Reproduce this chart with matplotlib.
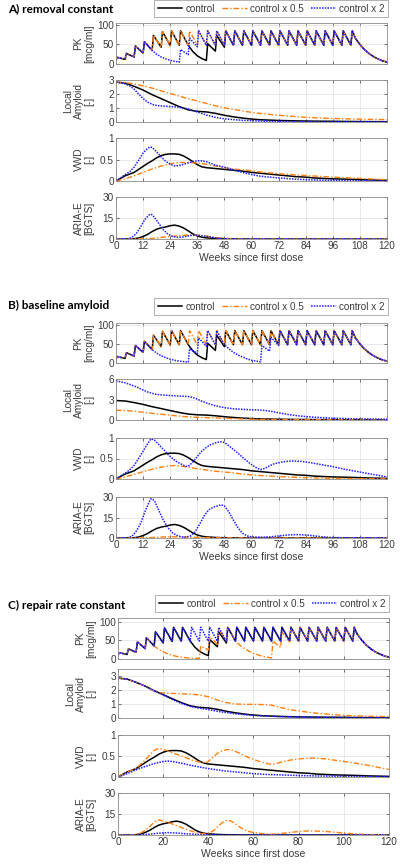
import matplotlib
matplotlib.use("Agg")
from matplotlib import pyplot as plt
from matplotlib.lines import Line2D

# ---------------- PK (sawtooth) ----------------
# uninterrupted dosing every 4 weeks: (week, mcg/ml)
pk_base = [(0, 11), (0.6, 17), (4, 12), (4.6, 27), (8, 18), (8.6, 46), (12, 28), (12.6, 57),
           (16, 35), (16.6, 73), (20, 43), (20.6, 83), (24, 47), (24.6, 85), (28, 48), (28.6, 85),
           (32, 48), (32.6, 85), (36, 48), (36.6, 85), (40, 48), (40.6, 85), (44, 48), (44.6, 85),
           (48, 48), (48.6, 85), (52, 48), (52.6, 85), (56, 48), (56.6, 85), (60, 48), (60.6, 85),
           (64, 48), (64.6, 85), (68, 48), (68.6, 85), (72, 48), (72.6, 85), (76, 48), (76.6, 85),
           (80, 48), (80.6, 85), (84, 48), (84.6, 85), (88, 48), (88.6, 85), (92, 48), (92.6, 85),
           (96, 48), (96.6, 85), (100, 48), (100.6, 85), (104, 48), (104.6, 85),
           (106, 66), (108, 50), (110, 37), (112, 27), (114, 19), (116, 13), (118, 8), (120, 5)]

# interrupted stretches: (from, to, replacement points)
pk_ctrl_gap = (31, 48.7, [(32, 48), (34, 32), (36, 21), (38, 14), (40, 9), (40.6, 52), (44, 33),
                          (44.6, 73), (48, 43), (48.6, 85)])
pk_a_dbl_gap = (15, 36.7, [(16, 35), (18, 25), (20, 18), (22, 13), (24, 9.6), (26, 7), (28, 5),
                           (28.6, 37), (32, 24), (32.6, 66), (36, 44), (36.6, 85)])
pk_b_dbl_gap1 = (15, 40.7, [(16, 35), (18, 26), (20, 19), (22, 14), (24, 10), (26, 7), (28, 5),
                            (30, 3.5), (32, 2.5), (32.6, 38), (36, 25), (36.6, 66), (40, 44), (40.6, 85)])
pk_b_dbl_gap2 = (47, 72.7, [(48, 48), (50, 37), (52, 28), (54, 21), (56, 16), (58, 11), (60, 7),
                            (62, 5), (64, 3), (64.6, 46), (68, 31), (68.6, 68), (72, 46), (72.6, 85)])
pk_c_half_gap1 = (15, 44.7, [(16, 35), (18, 26), (20, 19), (22, 14), (24, 10), (26, 7), (28, 5),
                             (30, 3.5), (32, 2.5), (34, 2), (36, 1.5), (36.6, 35), (40, 24),
                             (40.6, 60), (44, 40), (44.6, 80)])
pk_c_half_gap2 = (51, 76.7, [(52, 48), (54, 37), (56, 28), (58, 21), (60, 15), (62, 11), (64, 7),
                             (66, 5), (68, 3), (68.6, 48), (72, 31), (72.6, 72), (76, 46), (76.6, 85)])

# ---------------- Local amyloid ----------------
ctrl_la_wk = [0, 4, 8, 12, 16, 20, 24, 28, 32, 36, 40, 44, 48, 52, 56, 60, 64, 72, 80, 88, 96, 108, 120]
ctrl_la = [2.85, 2.78, 2.55, 2.28, 1.95, 1.67, 1.38, 1.1, 0.87, 0.76, 0.72, 0.62, 0.48, 0.37, 0.28,
           0.21, 0.16, 0.11, 0.08, 0.06, 0.05, 0.03, 0.02]
a_half_la_wk = [0, 4, 8, 12, 16, 20, 24, 28, 32, 36, 40, 44, 48, 52, 56, 60, 64, 72, 80, 88, 96, 108, 120]
a_half_la = [2.85, 2.82, 2.72, 2.58, 2.42, 2.22, 2.04, 1.85, 1.66, 1.5, 1.33, 1.16, 1.02, 0.9, 0.79,
             0.69, 0.61, 0.48, 0.38, 0.3, 0.25, 0.2, 0.17]
a_dbl_la_wk = [0, 2, 4, 6, 8, 10, 12, 14, 16, 18, 20, 24, 28, 32, 36, 40, 44, 48, 52, 56, 64, 72, 84, 120]
a_dbl_la = [2.85, 2.8, 2.72, 2.58, 2.35, 2.0, 1.68, 1.42, 1.26, 1.18, 1.15, 1.1, 1.06, 0.93, 0.72,
            0.5, 0.33, 0.23, 0.17, 0.12, 0.07, 0.04, 0.02, 0.01]
b_half_la_wk = [0, 4, 8, 12, 16, 20, 24, 28, 32, 36, 40, 44, 48, 52, 56, 60, 64, 72, 80, 88, 96, 108, 120]
b_half_la = [1.42, 1.39, 1.28, 1.14, 0.98, 0.84, 0.7, 0.57, 0.46, 0.39, 0.35, 0.3, 0.25, 0.2, 0.15,
             0.12, 0.09, 0.06, 0.045, 0.035, 0.03, 0.02, 0.015]
b_dbl_la_wk = [0, 4, 8, 10, 12, 14, 16, 18, 20, 24, 28, 32, 34, 36, 38, 40, 44, 48, 52, 56, 60, 64,
               66, 68, 70, 72, 76, 80, 84, 88, 96, 108, 120]
b_dbl_la = [5.72, 5.45, 4.98, 4.7, 4.38, 4.1, 3.9, 3.75, 3.68, 3.58, 3.5, 3.44, 3.3, 3.05, 2.75, 2.5,
            2.08, 1.8, 1.64, 1.56, 1.5, 1.45, 1.4, 1.3, 1.18, 1.05, 0.82, 0.64, 0.5, 0.4, 0.26, 0.16, 0.12]
c_half_la_wk = [0, 4, 8, 12, 14, 16, 18, 20, 24, 28, 32, 36, 40, 44, 48, 52, 56, 60, 64, 68, 72, 76,
                80, 84, 88, 96, 104, 112, 120]
c_half_la = [2.85, 2.78, 2.55, 2.28, 2.1, 1.92, 1.82, 1.79, 1.76, 1.73, 1.7, 1.65, 1.52, 1.28, 1.1,
             1.0, 0.98, 0.97, 0.96, 0.92, 0.75, 0.6, 0.5, 0.42, 0.34, 0.23, 0.16, 0.12, 0.1]
c_dbl_la_wk = [0, 4, 8, 12, 16, 20, 24, 28, 32, 36, 40, 44, 48, 52, 56, 60, 66, 72, 80, 90, 100, 110, 120]
c_dbl_la = [2.85, 2.78, 2.55, 2.28, 1.95, 1.65, 1.33, 1.04, 0.83, 0.7, 0.6, 0.48, 0.38, 0.3, 0.24,
            0.19, 0.14, 0.1, 0.07, 0.05, 0.03, 0.025, 0.02]

# ---------------- VWD ----------------
ctrl_vwd_wk = [0, 2, 4, 6, 8, 10, 12, 14, 16, 18, 20, 22, 24, 26, 28, 30, 32, 34, 36, 38, 40, 44, 48,
               52, 56, 60, 64, 68, 72, 76, 80, 84, 88, 96, 104, 112, 120]
ctrl_vwd = [0, 0.06, 0.12, 0.16, 0.2, 0.27, 0.34, 0.41, 0.47, 0.54, 0.59, 0.62, 0.63, 0.63, 0.62,
            0.58, 0.52, 0.45, 0.38, 0.33, 0.31, 0.29, 0.27, 0.25, 0.23, 0.2, 0.18, 0.16, 0.14, 0.12,
            0.1, 0.09, 0.07, 0.05, 0.04, 0.025, 0.015]
a_half_vwd_wk = [0, 4, 8, 12, 16, 20, 24, 28, 32, 36, 40, 44, 48, 52, 56, 60, 64, 72, 80, 88, 96, 104, 112, 120]
a_half_vwd = [0, 0.05, 0.12, 0.2, 0.28, 0.35, 0.4, 0.43, 0.43, 0.42, 0.39, 0.35, 0.31, 0.28, 0.26,
              0.24, 0.21, 0.17, 0.14, 0.115, 0.09, 0.07, 0.05, 0.03]
a_dbl_vwd_wk = [0, 2, 4, 6, 8, 10, 12, 14, 15, 16, 18, 20, 22, 24, 26, 28, 30, 32, 34, 36, 38, 40, 42,
                44, 48, 52, 56, 60, 64, 70, 80, 90, 100, 120]
a_dbl_vwd = [0, 0.07, 0.15, 0.21, 0.32, 0.48, 0.65, 0.76, 0.79, 0.78, 0.68, 0.56, 0.46, 0.39, 0.35,
             0.36, 0.39, 0.42, 0.45, 0.47, 0.47, 0.45, 0.41, 0.37, 0.32, 0.26, 0.2, 0.15, 0.11, 0.08,
             0.04, 0.02, 0.01, 0.005]
b_half_vwd_wk = [0, 4, 8, 12, 16, 20, 24, 26, 28, 32, 36, 40, 44, 48, 52, 56, 60, 64, 72, 80, 88, 96, 108, 120]
b_half_vwd = [0, 0.05, 0.11, 0.18, 0.24, 0.29, 0.32, 0.33, 0.32, 0.29, 0.25, 0.22, 0.19, 0.17, 0.15,
              0.12, 0.1, 0.085, 0.06, 0.04, 0.025, 0.015, 0.008, 0.005]
b_dbl_vwd_wk = [0, 2, 4, 6, 8, 10, 12, 14, 15.5, 17, 19, 21, 23, 25, 27, 29, 31, 32, 34, 36, 38, 40,
                42, 44, 46, 48, 50, 52, 54, 56, 58, 60, 62, 64, 66, 68, 70, 74, 78, 82, 86, 90, 96,
                102, 108, 114, 120]
b_dbl_vwd = [0, 0.07, 0.14, 0.22, 0.33, 0.5, 0.68, 0.86, 0.98, 0.95, 0.84, 0.72, 0.6, 0.5, 0.42,
             0.36, 0.31, 0.31, 0.41, 0.55, 0.68, 0.77, 0.84, 0.88, 0.91, 0.89, 0.81, 0.72, 0.63, 0.53,
             0.44, 0.35, 0.28, 0.23, 0.26, 0.32, 0.37, 0.42, 0.44, 0.43, 0.4, 0.36, 0.3, 0.23, 0.17,
             0.11, 0.05]
c_half_vwd_wk = [0, 2, 4, 6, 8, 10, 12, 14, 16, 17.5, 19, 21, 23, 25, 27, 29, 31, 33, 35, 37, 38.5,
                 40, 42, 44, 46, 48, 50, 52, 54, 56, 58, 60, 62, 64, 66, 68, 70, 72, 76, 80, 84, 88,
                 92, 96, 100, 104, 108, 112, 116, 120]
c_half_vwd = [0, 0.06, 0.11, 0.16, 0.21, 0.3, 0.4, 0.52, 0.63, 0.67, 0.67, 0.64, 0.6, 0.56, 0.52,
              0.48, 0.44, 0.4, 0.37, 0.34, 0.33, 0.37, 0.47, 0.56, 0.62, 0.65, 0.65, 0.61, 0.56, 0.51,
              0.46, 0.42, 0.38, 0.35, 0.32, 0.3, 0.32, 0.35, 0.4, 0.43, 0.45, 0.45, 0.43, 0.4, 0.37,
              0.34, 0.3, 0.27, 0.22, 0.18]
c_dbl_vwd_wk = [0, 4, 8, 12, 16, 20, 22, 24, 28, 32, 36, 40, 44, 48, 52, 56, 60, 66, 72, 80, 88, 96, 108, 120]
c_dbl_vwd = [0, 0.08, 0.17, 0.25, 0.32, 0.37, 0.38, 0.37, 0.33, 0.28, 0.24, 0.2, 0.17, 0.14, 0.12,
             0.1, 0.08, 0.06, 0.05, 0.035, 0.025, 0.02, 0.012, 0.008]

# ---------------- ARIA-E ----------------
ctrl_aria_wk = [0, 6, 8, 10, 12, 14, 16, 18, 20, 22, 24, 26, 28, 30, 32, 34, 36, 38, 40, 44, 48, 52, 60, 120]
ctrl_aria = [0, 0, 0.2, 0.7, 1.8, 3.3, 5.3, 7, 8, 8.6, 9.5, 9.9, 9.2, 7.8, 5.8, 3.7, 2.2, 1.3, 0.8,
             0.4, 0.2, 0.1, 0, 0]
a_half_aria_wk = [0, 12, 16, 20, 24, 28, 32, 36, 40, 44, 48, 52, 56, 60, 120]
a_half_aria = [0, 0.1, 0.4, 1.1, 1.8, 2.4, 2.8, 2.7, 2.0, 1.1, 0.5, 0.25, 0.1, 0, 0]
a_dbl_aria_wk = [0, 5, 7, 9, 11, 13, 15, 16, 17, 19, 21, 23, 25, 27, 29, 31, 33, 35, 37, 39, 41, 43,
                 45, 48, 52, 120]
a_dbl_aria = [0, 0.2, 1.0, 4, 9, 14.5, 17.7, 17.3, 15.5, 11, 6.5, 3.5, 1.8, 1.2, 1.3, 1.9, 2.5, 2.7,
              2.6, 2.2, 1.7, 1.1, 0.6, 0.2, 0, 0]
b_half_aria_wk = [0, 12, 16, 20, 24, 28, 32, 36, 40, 48, 56, 120]
b_half_aria = [0, 0.1, 0.35, 0.7, 0.9, 0.85, 0.65, 0.45, 0.3, 0.1, 0, 0]
b_dbl_aria_wk = [0, 5, 7, 9, 11, 13, 15, 15.5, 17, 19, 21, 23, 25, 27, 29, 31, 33, 35, 37, 39, 41,
                 43, 45, 46.5, 48, 50, 52, 54, 56, 58, 60, 64, 68, 72, 76, 80, 84, 88, 92, 96, 120]
b_dbl_aria = [0, 0.2, 1.2, 5, 11, 20, 27.5, 28.8, 27.5, 20, 13, 7.5, 3.8, 1.8, 0.8, 0.6, 1.5, 4.5,
              10, 16, 20.5, 22.5, 23.5, 24.3, 23.5, 19, 13, 7.5, 3.5, 1.6, 0.8, 0.6, 0.8, 1.5, 2.2,
              2.5, 2.2, 1.5, 0.8, 0.3, 0]
c_half_aria_wk = [0, 6, 8, 10, 12, 14, 16, 17.5, 19, 21, 23, 25, 27, 29, 31, 33, 35, 37, 39, 41, 43,
                  45, 47, 48.5, 50, 52, 54, 56, 58, 60, 64, 68, 72, 76, 80, 84, 88, 92, 96, 100, 104,
                  108, 114, 120]
c_half_aria = [0, 0.1, 0.5, 1.4, 3.2, 6, 9, 10.7, 10.5, 9.5, 8.5, 7.3, 6, 4.8, 3.6, 2.5, 1.5, 1, 1,
               1.8, 4, 7.3, 9.8, 10.5, 10, 8, 5.6, 3.8, 2.5, 1.8, 0.9, 0.6, 1.0, 1.8, 2.5, 2.9, 2.8,
               2.5, 2, 1.4, 0.9, 0.5, 0.2, 0.1]
c_dbl_aria_wk = [0, 10, 14, 18, 22, 26, 30, 34, 38, 44, 120]
c_dbl_aria = [0, 0.1, 0.6, 1.3, 1.7, 1.4, 0.9, 0.5, 0.2, 0, 0]

panel_titles = ["A) removal constant", "B) baseline amyloid", "C) repair rate constant"]
legend_labels = ["control", "control x 0.5", "control x 2"]
row_labels = ["PK\n[mcg/ml]", "Local\nAmyloid\n[-]", "VWD\n[-]", "ARIA-E\n[BGTS]"]


def splice(base, gap):
    t0, t1, seg = gap
    return [p for p in base if p[0] < t0] + seg + [p for p in base if p[0] > t1]


pk_ctrl = splice(pk_base, pk_ctrl_gap)
pk_a_dbl = splice(pk_base, pk_a_dbl_gap)
pk_b_dbl = splice(splice(pk_base, pk_b_dbl_gap1), pk_b_dbl_gap2)
pk_c_half = splice(splice(pk_base, pk_c_half_gap1), pk_c_half_gap2)

ctrl_la_s = (ctrl_la_wk, ctrl_la)
ctrl_vwd_s = (ctrl_vwd_wk, ctrl_vwd)
ctrl_aria_s = (ctrl_aria_wk, ctrl_aria)


def xy(pairs):
    return [p[0] for p in pairs], [p[1] for p in pairs]


panels = [
    dict(rows=[[xy(pk_ctrl), xy(pk_base), xy(pk_a_dbl)],
               [ctrl_la_s, (a_half_la_wk, a_half_la), (a_dbl_la_wk, a_dbl_la)],
               [ctrl_vwd_s, (a_half_vwd_wk, a_half_vwd), (a_dbl_vwd_wk, a_dbl_vwd)],
               [ctrl_aria_s, (a_half_aria_wk, a_half_aria), (a_dbl_aria_wk, a_dbl_aria)]],
         boxes=[(116, 23, 387, 64), (116, 80, 387, 122), (116, 138, 387, 181), (116, 197, 387, 239)],
         title_y=9, leg=(388, 17), xt=12, la_ticks=[0, 1, 2, 3], la_lim=3, pk_lim=105),
    dict(rows=[[xy(pk_ctrl), xy(pk_base), xy(pk_b_dbl)],
               [ctrl_la_s, (b_half_la_wk, b_half_la), (b_dbl_la_wk, b_dbl_la)],
               [ctrl_vwd_s, (b_half_vwd_wk, b_half_vwd), (b_dbl_vwd_wk, b_dbl_vwd)],
               [ctrl_aria_s, (b_half_aria_wk, b_half_aria), (b_dbl_aria_wk, b_dbl_aria)]],
         boxes=[(116, 323, 387, 363), (116, 379, 387, 420), (116, 438, 387, 479), (116, 497, 387, 538)],
         title_y=305, leg=(388, 315), xt=12, la_ticks=[0, 3, 6], la_lim=6, pk_lim=105),
    dict(rows=[[xy(pk_ctrl), xy(pk_c_half), xy(pk_base)],
               [ctrl_la_s, (c_half_la_wk, c_half_la), (c_dbl_la_wk, c_dbl_la)],
               [ctrl_vwd_s, (c_half_vwd_wk, c_half_vwd), (c_dbl_vwd_wk, c_dbl_vwd)],
               [ctrl_aria_s, (c_half_aria_wk, c_half_aria), (c_dbl_aria_wk, c_dbl_aria)]],
         boxes=[(118, 618, 389, 659), (118, 669, 389, 718), (118, 735, 389, 777), (118, 793, 389, 835)],
         title_y=605, leg=(389, 612), xt=20, la_ticks=[0, 1, 2, 3], la_lim=3.5, pk_lim=110),
]

styles = [dict(color="black", lw=1.1, ls="-"),
          dict(color="#ff7f0e", lw=1.0, ls=(0, (4, 1.5, 1, 1.5))),
          dict(color="#2020ff", lw=1.1, ls=(0, (1, 0.8)))]

W, H = 400, 864
fig = plt.figure(figsize=(W / 100, H / 100), dpi=100)
txt = "#3a3a3a"
fnt = "Liberation Sans"

for p, title in zip(panels, panel_titles):
    fig.text(8 / W, 1 - p["title_y"] / H, title, ha="left", va="center",
             fontsize=8.5, fontweight="bold", family="Lato")
    for r, (box, series) in enumerate(zip(p["boxes"], p["rows"])):
        l, t, rr, b = box
        ax = fig.add_axes([l / W, 1 - b / H, (rr - l) / W, (b - t) / H])
        for (xs, ys), st in zip(series, styles):
            ax.plot(xs, ys, **st)
        ax.set_xlim(0, 120)
        ax.set_xticks(range(0, 121, p["xt"]))
        if r == 0:
            ax.set_ylim(0, p["pk_lim"])
            ax.set_yticks([0, 50, 100])
        elif r == 1:
            ax.set_ylim(0, p["la_lim"])
            ax.set_yticks(p["la_ticks"])
        elif r == 2:
            ax.set_ylim(0, 1)
            ax.set_yticks([0, 0.5, 1])
            ax.set_yticklabels(["0", "0.5", "1"])
        else:
            ax.set_ylim(0, 30)
            ax.set_yticks([0, 15, 30])
        if r < 3:
            ax.set_xticklabels([])
        else:
            ax.set_xlabel("Weeks since first dose", fontsize=7.5, color=txt, labelpad=1.5,
                          family=fnt)
        ax.set_ylabel(row_labels[r], fontsize=7.3, color=txt, family=fnt, linespacing=1.1)
        ax.yaxis.set_label_coords(-0.08, 0.5)
        ax.grid(True, color="#e0e0e0", lw=0.5)
        ax.set_axisbelow(True)
        ax.tick_params(direction="in", length=2, width=0.5, labelsize=7.2, colors=txt,
                       pad=1.5, top=True, right=True)
        for lab in ax.get_xticklabels() + ax.get_yticklabels():
            lab.set_family(fnt)
        for s in ax.spines.values():
            s.set_color("#8c8c8c")
            s.set_linewidth(0.6)
    handles = [Line2D([], [], **st) for st in styles]
    lx, ly = p["leg"]
    leg = fig.legend(handles, legend_labels, loc="lower right", ncol=3,
                     bbox_to_anchor=(lx / W, 1 - ly / H), frameon=True,
                     fancybox=False, edgecolor="#8c8c8c", borderpad=0.35, handlelength=2.5,
                     handletextpad=0.35, columnspacing=0.7, borderaxespad=0,
                     prop=dict(family=fnt, size=7.1))
    leg.get_frame().set_linewidth(0.6)
    for t in leg.get_texts():
        t.set_color(txt)

fig.savefig("out.png", dpi=100)
